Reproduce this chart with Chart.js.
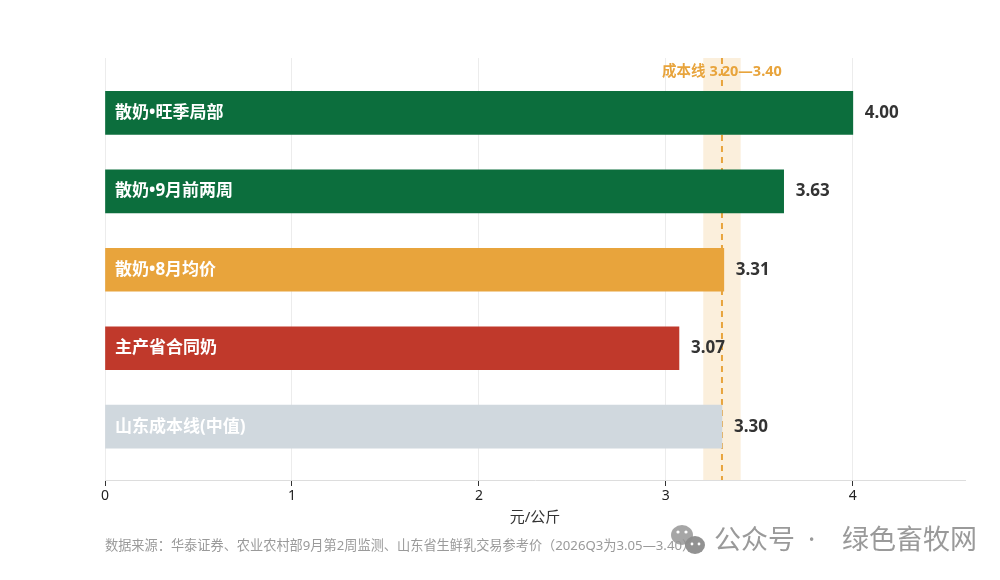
<!DOCTYPE html>
<html><head><meta charset="utf-8">
<script src="https://cdn.jsdelivr.net/npm/chart.js@4/dist/chart.umd.min.js"></script>
<style>html,body{margin:0;padding:0;background:#fff}#wrap{width:1000px;height:580px;position:relative}</style>
</head><body><div id="wrap"><canvas id="c" width="1000" height="580"></canvas></div>
<script>
const categories = ['散奶•旺季局部','散奶•9月前两周','散奶•8月均价','主产省合同奶','山东成本线(中值)'];
const values = [4.00, 3.63, 3.31, 3.07, 3.30];
const barColors = ['#0C6E3D','#0C6E3D','#E8A43C','#C0392B','#D0D8DE'];
const xTicks = [0,1,2,3,4];
const costLow = 3.20, costHigh = 3.40, costMid = 3.30;
const costLabel = '成本线 3.20—3.40';
const axisTitle = '元/公斤';
const sourceText = '数据来源：华泰证券、农业农村部9月第2周监测、山东省生鲜乳交易参考价（2026Q3为3.05—3.40）';
const watermark = ['公众号', '·', '绿色畜牧网'];

const FONT = "'Noto Sans','Noto Sans CJK SC',sans-serif";

const overlay = {
  id:'overlay',
  beforeDatasetsDraw(chart){
    const {ctx, chartArea:a, scales:{x}} = chart;
    ctx.save();
    ctx.fillStyle = 'rgba(232,164,60,0.18)';
    const x1 = x.getPixelForValue(costLow), x2 = x.getPixelForValue(costHigh);
    ctx.fillRect(x1, a.top, x2-x1, a.bottom-a.top);
    const xm = x.getPixelForValue(costMid);
    ctx.strokeStyle = '#E8A43C'; ctx.lineWidth = 2; ctx.setLineDash([6,5]);
    ctx.beginPath(); ctx.moveTo(xm, a.top); ctx.lineTo(xm, a.bottom); ctx.stroke();
    ctx.setLineDash([]);
    ctx.fillStyle = '#E8A43C'; ctx.font = "bold 14.5px "+FONT; ctx.textAlign='center'; ctx.textBaseline='middle';
    ctx.fillText(costLabel, xm, 72);
    ctx.restore();
  },
  afterDatasetsDraw(chart){
    const {ctx, scales:{x,y}} = chart;
    ctx.save();
    ctx.textBaseline='middle';
    values.forEach((v,i)=>{
      const yp = y.getPixelForValue(i);
      ctx.font = "bold 17px "+FONT;
      ctx.fillStyle = '#ffffff'; ctx.textAlign='left';
      ctx.fillText(categories[i], x.getPixelForValue(0)+10, yp);
      ctx.fillStyle = '#333333';
      ctx.fillText(v.toFixed(2), x.getPixelForValue(v)+12, yp);
    });
    ctx.restore();
  },
  afterDraw(chart){
    const {ctx, chartArea:a} = chart;
    ctx.save();
    ctx.fillStyle='#333'; ctx.font="15px "+FONT; ctx.textAlign='center'; ctx.textBaseline='middle';
    ctx.fillText(axisTitle, (a.left+a.right)/2, 518);
    ctx.fillStyle='#9a9a9a'; ctx.font="13.2px "+FONT; ctx.textAlign='left';
    ctx.fillText(sourceText, 105, 546);
    // watermark icon
    ctx.fillStyle='rgba(150,150,150,0.85)';
    ctx.beginPath(); ctx.ellipse(682,535,11,10,0,0,Math.PI*2); ctx.fill();
    ctx.fillStyle='rgba(140,140,140,0.95)';
    ctx.beginPath(); ctx.ellipse(695,545,10,9,0,0,Math.PI*2); ctx.fill();
    ctx.fillStyle='#fff';
    ctx.beginPath(); ctx.arc(678,532,1.6,0,Math.PI*2); ctx.arc(686,532,1.6,0,Math.PI*2); ctx.fill();
    ctx.beginPath(); ctx.arc(692,544,1.4,0,Math.PI*2); ctx.arc(699,544,1.4,0,Math.PI*2); ctx.fill();
    ctx.fillStyle='#9a9a9a'; ctx.font="27px "+FONT; ctx.textAlign='left';
    ctx.fillText(watermark[0], 714, 541);
    ctx.fillText(watermark[1], 808, 541);
    ctx.fillText(watermark[2], 842, 541);
    ctx.restore();
  }
};

new Chart(document.getElementById('c'), {
  type:'bar',
  data:{ datasets:[{
    data: values.map((v,i)=>({x:v, y:i})),
    backgroundColor: barColors,
    barThickness: 43,
    borderWidth: 0
  }]},
  options:{
    indexAxis:'y',
    responsive:false, animation:false,
    layout:{padding:{left:105, right:35, top:58, bottom:0}},
    plugins:{legend:{display:false}, tooltip:{enabled:false}},
    scales:{
      x:{
        type:'linear', min:0, max:4.6,
        afterBuildTicks(s){ s.ticks = xTicks.map(v=>({value:v})); },
        afterFit(s){ s.height = 100; },
        grid:{color:'#ececec', tickColor:'#333', tickLength:6, drawOnChartArea:true},
        border:{display:true, color:'#dddddd'},
        ticks:{color:'#222', font:{size:14, family:FONT}, padding:2}
      },
      y:{
        type:'linear', min:-0.70, max:4.68, reverse:true, display:false, offset:false,
        grid:{offset:false}
      }
    }
  },
  plugins:[overlay]
});
</script></body></html>
